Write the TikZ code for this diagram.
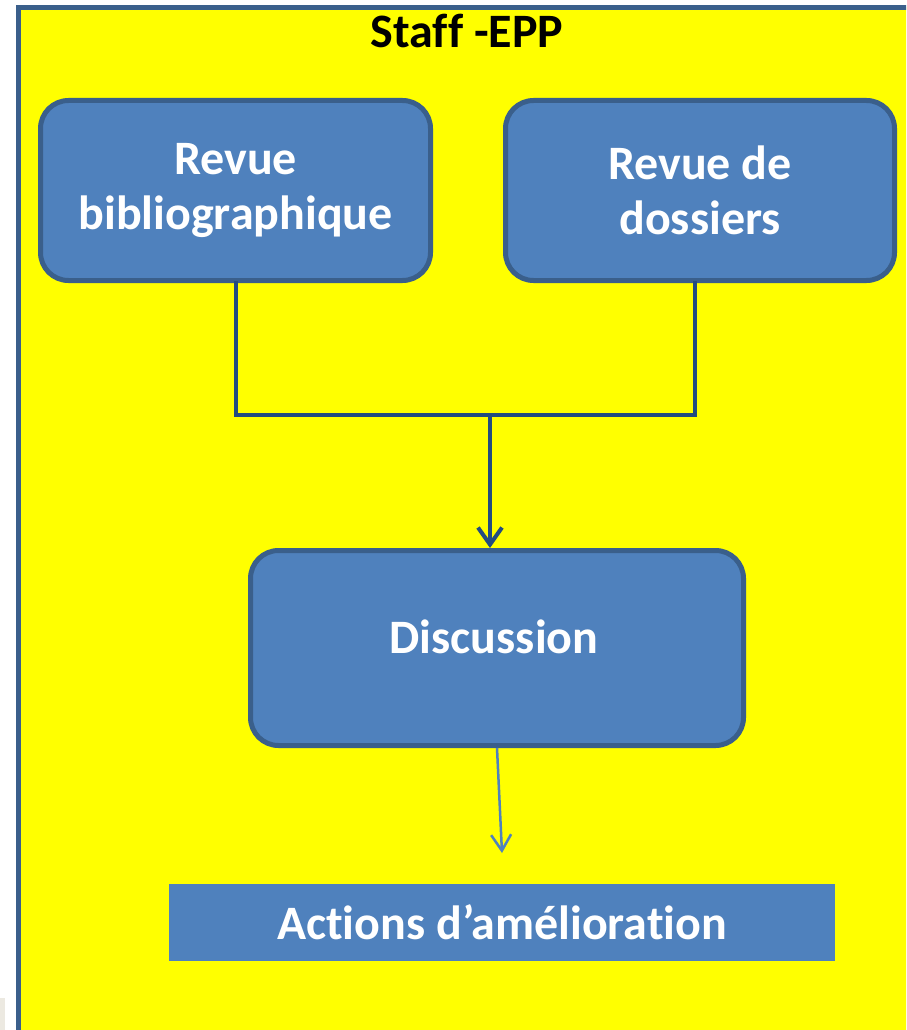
\documentclass[tikz,border=0pt]{standalone}
\usepackage{fontspec}
\setmainfont{Carlito}[Ligatures=NoCommon]
\usetikzlibrary{arrows.meta}
\definecolor{boxfill}{HTML}{4F81BD}
\definecolor{boxline}{HTML}{3A5F8B}
\definecolor{conn}{HTML}{234C80}
\definecolor{framefill}{HTML}{FFFF00}
\definecolor{scrap}{HTML}{ECE9E1}
\begin{document}
\begin{tikzpicture}[x=1pt,y=-1pt,
  bigtext/.style={font=\fontsize{48}{55}\selectfont\bfseries},
  roundbox/.style={draw=boxline, line width=5pt, fill=boxfill, rounded corners=28pt,
     text=white, align=center, bigtext, inner sep=0pt},
  flatbox/.style={fill=boxfill, text=white, bigtext, inner sep=0pt},
  thickconn/.style={draw=conn, line width=4pt},
  thinconn/.style={draw=boxfill, line width=2.5pt}
]
\clip (0,0) rectangle (906,1030);
\useasboundingbox (0,0) rectangle (906,1030);
% outer frame (cropped at right and bottom)
\draw[draw=boxline, fill=framefill, line width=5pt] (18,7.5) rectangle (940,1060);
\fill[scrap] (0,998) rectangle (5,1030);
% title
\node[bigtext, text=black, inner sep=0pt] (title) at (467,31) {Staff -EPP};
% boxes
\node[roundbox, minimum width=390pt, minimum height=180pt] (b1) at (235.5,190.5)
  {Revue\\bibliographique};
\node[roundbox, minimum width=389pt, minimum height=180pt] (b2) at (700,190.5)
  {Revue de\\dossiers};
\node[roundbox, minimum width=493pt, minimum height=195pt] (disc) at (497,648) {};
\node[text=white, bigtext, inner sep=0pt] (disctext) at (494,637) {Discussion};
\node[flatbox, minimum width=666pt, minimum height=77pt] (act) at (502,922.5)
  {Actions d’amélioration};
% connectors
\coordinate (m) at (490,415);
\coordinate (t) at (502,853);
\draw[thickconn, line cap=rect] (b1.south) |- (m) -| ([xshift=-5pt]b2.south);
\draw[thickconn, -{Straight Barb[length=17pt,width=24pt,line width=4pt]}]
  (m) -- (m |- disc.north);
\draw[thinconn, -{Straight Barb[length=16pt,width=20pt,line width=2.5pt]}]
  (disc.south) -- (t);
\end{tikzpicture}
\end{document}
